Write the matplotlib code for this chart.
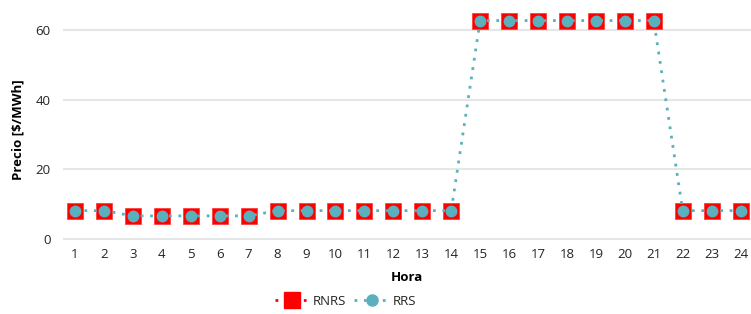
import matplotlib
matplotlib.use("Agg")
import matplotlib.pyplot as plt
from matplotlib.lines import Line2D

horas = list(range(1, 25))
rnrs = [8.2, 8.2, 6.7, 6.7, 6.7, 6.7, 6.7, 8.2, 8.2, 8.2, 8.2, 8.2, 8.2, 8.2,
        62.6, 62.6, 62.6, 62.6, 62.6, 62.6, 62.6, 8.2, 8.2, 8.2]
rrs = [8.2, 8.2, 6.7, 6.7, 6.7, 6.7, 6.7, 8.2, 8.2, 8.2, 8.2, 8.2, 8.2, 8.2,
       62.6, 62.6, 62.6, 62.6, 62.6, 62.6, 62.6, 8.2, 8.2, 8.2]
yticks = [0, 20, 40, 60]

plt.rcParams['font.family'] = ['Open Sans', 'DejaVu Sans']
txt = '#252423'
red = '#ff0000'
teal = '#5bb0bd'
dots = (0, (1, 2.4))

fig = plt.figure(figsize=(7.51, 3.14), dpi=100)
ax = fig.add_axes([63/751, 0.2268, 1 - 63/751, 0.7232])

# RNRS line is hidden under the RRS line in the reference; only its markers show
ax.plot(horas, rnrs, color=red, linestyle='none',
        marker='s', markersize=11, markerfacecolor=red, markeredgecolor='#ff3030',
        markeredgewidth=0.5, zorder=3, clip_on=False)
ax.plot(horas, rrs, color=teal, linestyle=dots, linewidth=2.0,
        marker='o', markersize=7.5, markerfacecolor=teal, markeredgecolor=teal,
        zorder=4, clip_on=False)

ax.set_xlim(0.585, 24.36)
ax.set_ylim(-1, 64)
ax.set_xticks(horas)
ax.set_xticklabels([str(h) for h in horas])
ax.set_yticks(yticks)
ax.grid(axis='y', color='#e6e6e6', linewidth=1.5)
ax.set_axisbelow(True)
for s in ax.spines.values():
    s.set_visible(False)
ax.tick_params(axis='both', length=0, labelsize=9.5, colors=txt)
ax.tick_params(axis='x', pad=4)
ax.tick_params(axis='y', pad=9)

ax.set_xlabel('Hora', fontsize=9.5, fontweight='bold', color='#000000', labelpad=7)
ax.set_ylabel('Precio [$/MWh]', fontsize=9.5, fontweight='bold', color='#000000', labelpad=8)

handles = [
    Line2D([0], [0], color=red, linestyle=dots, linewidth=2.0,
           marker='s', markersize=11, markerfacecolor=red, markeredgecolor=red),
    Line2D([0], [0], color=teal, linestyle=dots, linewidth=2.0,
           marker='o', markersize=8, markerfacecolor=teal, markeredgecolor=teal),
]
fig.legend(handles, ['RNRS', 'RRS'], loc='center', bbox_to_anchor=(0.46, 0.041),
           ncol=2, frameon=False, fontsize=9.5, handlelength=2.6, handletextpad=0.3,
           columnspacing=0.6, labelcolor=txt)

fig.savefig('out.png', dpi=100)
